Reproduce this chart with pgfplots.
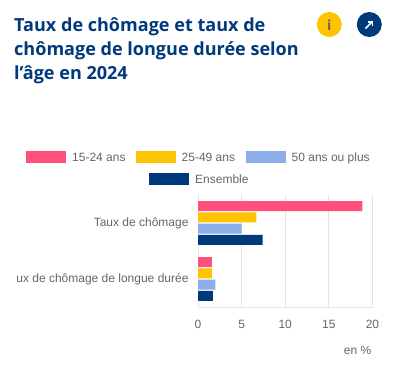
\documentclass[border=0pt]{standalone}
\usepackage{fontspec}
\usepackage{pgfplots}
\usetikzlibrary{arrows.meta}
\pgfplotsset{compat=1.18}
\setmainfont{Liberation Sans}
\newfontfamily\titlefont{Open Sans}
\definecolor{cpink}{HTML}{FF4F7B}
\definecolor{cyellow}{HTML}{FFC400}
\definecolor{cblue}{HTML}{8BADE8}
\definecolor{cnavy}{HTML}{003A7D}
\definecolor{ctext}{HTML}{666666}
\definecolor{cgrid}{HTML}{E4E4E4}
\begin{document}
\begin{tikzpicture}[x=1bp,y=-1bp]
\path[fill=white] (0,0) rectangle (395,381);
% title
\node[anchor=base west,inner sep=0pt,text=cnavy,font=\titlefont\bfseries\fontsize{18.05bp}{24bp}\selectfont] at (14,31) {Taux de chômage et taux de};
\node[anchor=base west,inner sep=0pt,text=cnavy,font=\titlefont\bfseries\fontsize{18.05bp}{24bp}\selectfont] at (14,55) {chômage de longue durée selon};
\node[anchor=base west,inner sep=0pt,text=cnavy,font=\titlefont\bfseries\fontsize{18.05bp}{24bp}\selectfont] at (14,79) {l’âge en 2024};
% icons
\fill[cyellow] (329.3,24.5) circle[radius=12.5];
\node[text=ctext,font=\titlefont\bfseries\fontsize{14bp}{14bp}\selectfont,inner sep=0pt] at (329.3,25) {i};
\fill[cnavy] (369.3,24.5) circle[radius=12.5];
\draw[white,line width=1.5bp,-{Straight Barb[length=3bp,width=6bp]}] (365.5,28.5) -- (373,21);
% legend
\foreach \a/\b/\col in {26/151/cpink,136/151/cyellow,245.5/151/cblue,148.5/173/cnavy}{
  \fill[\col] (\a,\b) rectangle ++(40,12);
}
\foreach \x/\y/\t in {72/161/15-24 ans,181.5/161/25-49 ans,291.5/161/50 ans ou plus,195/183/Ensemble}{
  \node[anchor=base west,inner sep=0pt,text=ctext,font=\fontsize{12bp}{14bp}\selectfont] at (\x,\y) {\t};
}
\begin{axis}[
  at={(198bp,-307bp)},anchor=south west,
  scale only axis,width=174.5bp,height=112bp,
  xmin=0,xmax=20,ymin=-0.5,ymax=1.5,y dir=reverse,
  xbar,bar width=10bp,
  xtick={0,5,10,15,20},
  ytick={0,1},
  yticklabels={Taux de chômage,ux de chômage de longue durée},
  /pgf/number format/assume math mode=true,
  tick label style={text=ctext,font=\fontsize{12bp}{14bp}\selectfont},
  xticklabel style={yshift=-10bp},
  yticklabel style={xshift=-6bp,yshift=-0.7bp},
  major tick length=0pt,
  xmajorgrids,
  grid style={cgrid,line width=0.8bp},
  axis line style={cgrid,line width=0.8bp},
  axis x line*=bottom,axis y line*=left,
  clip=false,
]
\addplot[draw=none,fill=cpink,bar shift=16.95bp] coordinates {(18.85,0) (1.6,1)};
\addplot[draw=none,fill=cyellow,bar shift=5.65bp] coordinates {(6.7,0) (1.6,1)};
\addplot[draw=none,fill=cblue,bar shift=-5.65bp] coordinates {(5.0,0) (2.0,1)};
\addplot[draw=none,fill=cnavy,bar shift=-16.95bp] coordinates {(7.4,0) (1.7,1)};
\end{axis}
\node[anchor=base east,inner sep=0pt,text=ctext,font=\fontsize{12bp}{14bp}\selectfont] at (371.5,354) {en \%};
\end{tikzpicture}
\end{document}
